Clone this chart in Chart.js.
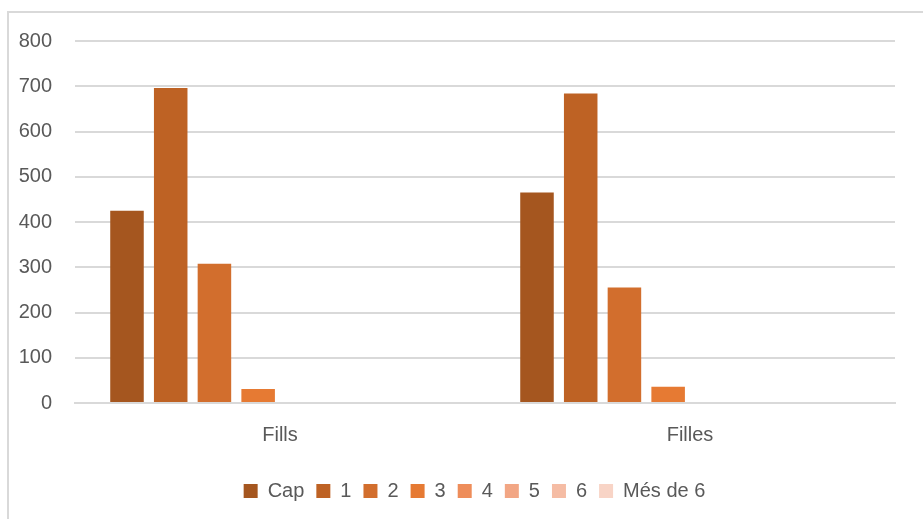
<!DOCTYPE html>
<html>
<head>
<meta charset="utf-8">
<script src="https://cdn.jsdelivr.net/npm/chart.js@4/dist/chart.umd.min.js"></script>
<style>
  html, body { margin: 0; padding: 0; background: #fff; overflow: hidden; width: 923px; height: 519px; }
  #frame { position: absolute; left: 7px; top: 11px; width: 1000px; height: 1000px; border: 2px solid #d9d9d9; box-sizing: border-box; }
  #c { position: absolute; left: 0; top: 0; }
</style>
</head>
<body>
<div id="frame"></div>
<canvas id="c" width="923" height="519"></canvas>
<script>
const categories = ["Fills", "Filles"];
const seriesNames = ["Cap", "1", "2", "3", "4", "5", "6", "Més de 6"];
const capValues = [425, 465];
const oneValues = [696, 684];
const twoValues = [308, 255];
const threeValues = [31, 36];
const fourValues = [0, 0];
const fiveValues = [0, 0];
const sixValues = [0, 0];
const moreThanSixValues = [0, 0];
const yTicks = [0, 100, 200, 300, 400, 500, 600, 700, 800];

const seriesValues = [capValues, oneValues, twoValues, threeValues, fourValues, fiveValues, sixValues, moreThanSixValues];
const colors = ["#A5561F", "#BE6224", "#D26E2D", "#E67A33", "#EE8D5A", "#F2A684", "#F5BCA4", "#F8D4C6"];

const datasets = seriesNames.map((name, i) => ({
  label: name,
  data: seriesValues[i],
  backgroundColor: colors[i],
  borderColor: colors[i],
  borderWidth: 0,
  categoryPercentage: 0.853,
  barPercentage: 0.767
}));

const fontFamily = "'Liberation Sans', 'DejaVu Sans', sans-serif";
const textColor = "#595959";

const legendShift = {
  id: 'legendShift',
  afterLayout(chart) {
    if (chart.legend) {
      chart.legend.left += 22;
      chart.legend.right += 22;
      chart.legend.top += 2;
      chart.legend.bottom += 2;
    }
  }
};

new Chart(document.getElementById('c'), {
  type: 'bar',
  data: { labels: categories, datasets },
  plugins: [legendShift],
  options: {
    responsive: false,
    animation: false,
    devicePixelRatio: 1,
    layout: { padding: { left: 10, right: 28, top: 41, bottom: 10 } },
    plugins: {
      legend: {
        position: 'bottom',
        labels: {
          color: textColor,
          font: { family: fontFamily, size: 20 },
          boxWidth: 14,
          boxHeight: 14,
          padding: 12
        }
      },
      tooltip: { enabled: false }
    },
    scales: {
      x: {
        grid: { display: false, drawTicks: false },
        border: { display: true, color: "#d9d9d9", width: 2 },
        ticks: { color: textColor, font: { family: fontFamily, size: 20 }, padding: 20 }
      },
      y: {
        min: 0,
        max: 800,
        afterBuildTicks: (s) => { s.ticks = yTicks.map(v => ({ value: v })); },
        afterFit: (s) => { s.width = 65; },
        grid: { color: "#d9d9d9", lineWidth: 2, drawTicks: false },
        border: { display: false },
        ticks: { color: textColor, font: { family: fontFamily, size: 20 }, padding: 23 }
      }
    }
  }
});
</script>
</body>
</html>
